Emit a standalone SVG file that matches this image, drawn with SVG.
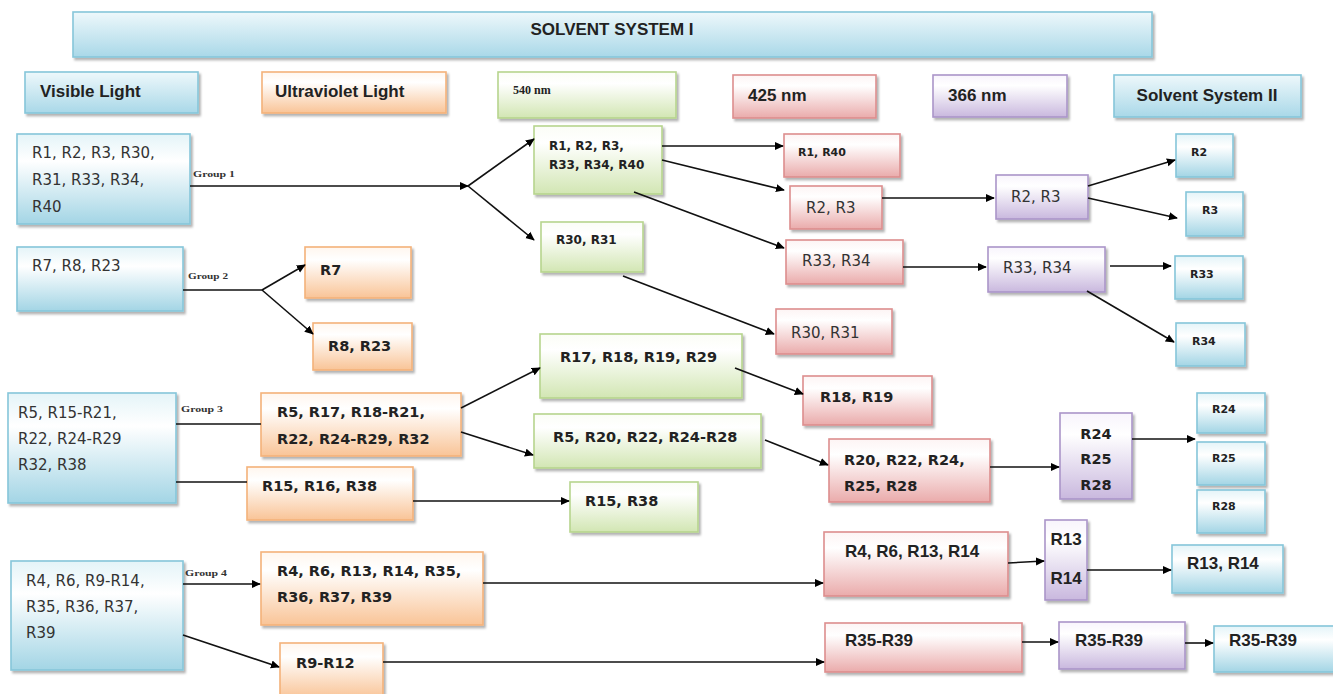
<svg xmlns="http://www.w3.org/2000/svg" width="1333" height="694" viewBox="0 0 1333 694">
<defs>
  <linearGradient id="gBlue" x1="0" y1="0" x2="0" y2="1">
    <stop offset="0" stop-color="#e4f4f8"/><stop offset="0.3" stop-color="#ffffff"/><stop offset="1" stop-color="#a3d5e5"/>
  </linearGradient>
  <linearGradient id="gHead" x1="0" y1="0" x2="0" y2="1">
    <stop offset="0" stop-color="#eef8fb"/><stop offset="1" stop-color="#a9d8e8"/>
  </linearGradient>
  <linearGradient id="gOrange" x1="0" y1="0" x2="0" y2="1">
    <stop offset="0" stop-color="#fff6ee"/><stop offset="0.25" stop-color="#ffffff"/><stop offset="1" stop-color="#f9c497"/>
  </linearGradient>
  <linearGradient id="gGreen" x1="0" y1="0" x2="0" y2="1">
    <stop offset="0" stop-color="#fbfdf6"/><stop offset="0.25" stop-color="#ffffff"/><stop offset="1" stop-color="#d2e6b3"/>
  </linearGradient>
  <linearGradient id="gRed" x1="0" y1="0" x2="0" y2="1">
    <stop offset="0" stop-color="#fdf4f4"/><stop offset="0.25" stop-color="#ffffff"/><stop offset="1" stop-color="#eaabab"/>
  </linearGradient>
  <linearGradient id="gPurple" x1="0" y1="0" x2="0" y2="1">
    <stop offset="0" stop-color="#f8f4fc"/><stop offset="0.25" stop-color="#ffffff"/><stop offset="1" stop-color="#c9b8de"/>
  </linearGradient>
  <filter id="sh" x="-10%" y="-10%" width="130%" height="140%">
    <feDropShadow dx="2" dy="2.5" stdDeviation="1.2" flood-color="#000" flood-opacity="0.3"/>
  </filter>
  <marker id="ah" viewBox="0 0 10 10" refX="9" refY="5" markerWidth="9" markerHeight="9" markerUnits="userSpaceOnUse" orient="auto">
    <path d="M0,0.5 L10,5 L0,9.5 Z" fill="#000"/>
  </marker>
  <style>
    rect { filter: url(#sh); stroke-width: 1.6; }
    .blue rect { fill: url(#gBlue); stroke: #86c6da; }
    .head rect { fill: url(#gHead); stroke: #86c6da; }
    .orange rect { fill: url(#gOrange); stroke: #f4b27a; }
    .green rect { fill: url(#gGreen); stroke: #b7d58e; }
    .red rect { fill: url(#gRed); stroke: #dd8e8e; }
    .purple rect { fill: url(#gPurple); stroke: #ab95c9; }
    text { fill: #222; }
    .dv { font-family: "DejaVu Sans", sans-serif; font-size: 15px; fill: #333; }
    .dvb { font-family: "DejaVu Sans", sans-serif; font-size: 14.5px; font-weight: bold; }
    .dvs { font-family: "DejaVu Sans", sans-serif; font-size: 12px; font-weight: bold; }
    .dvxs { font-family: "DejaVu Sans", sans-serif; font-size: 11px; font-weight: bold; }
    .cb { font-family: "Liberation Sans", Arial, sans-serif; font-size: 17px; font-weight: bold; }
    .ser { font-family: "Liberation Serif", serif; font-size: 12px; font-weight: bold; }
    .grp { font-family: "Liberation Serif", serif; font-size: 9px; font-weight: bold; fill: #333; }
    #connectors line { stroke: #111; stroke-width: 1.6; fill: none; }
    .arr { marker-end: url(#ah); }
  </style>
</defs>

<rect width="1333" height="694" fill="#ffffff" style="filter:none"/>

<!-- Headers -->
<g id="solvent-system-1" class="head"><rect x="73" y="12" width="1079" height="45"/><text class="cb" x="612" y="35" font-size="14" text-anchor="middle">SOLVENT SYSTEM I</text></g>
<g id="visible-light" class="head"><rect x="25" y="72" width="173" height="41"/><text class="cb" x="40" y="97">Visible Light</text></g>
<g id="ultraviolet-light" class="orange"><rect x="262" y="72" width="184" height="41"/><text class="cb" x="275" y="97">Ultraviolet Light</text></g>
<g id="h540" class="green"><rect x="498" y="72" width="178" height="46"/><text class="ser" x="513" y="94">540 nm</text></g>
<g id="h425" class="red"><rect x="733" y="75" width="143" height="43"/><text class="cb" x="748" y="101">425 nm</text></g>
<g id="h366" class="purple"><rect x="933" y="75" width="134" height="42"/><text class="cb" x="948" y="101">366 nm</text></g>
<g id="solvent-system-2" class="head"><rect x="1114" y="75" width="187" height="42"/><text class="cb" x="1207" y="101" text-anchor="middle">Solvent System II</text></g>

<!-- Group 1 -->
<g id="g1" class="blue"><rect x="17" y="134" width="173" height="90"/>
  <text class="dv" x="32" y="158">R1, R2, R3, R30,</text>
  <text class="dv" x="32" y="185">R31, R33, R34,</text>
  <text class="dv" x="32" y="212">R40</text></g>
<g id="g1-540a" class="green"><rect x="534" y="126" width="128" height="68"/>
  <text class="dvs" x="549" y="150">R1, R2, R3,</text>
  <text class="dvs" x="549" y="169">R33, R34, R40</text></g>
<g id="g1-540b" class="green"><rect x="541" y="222" width="102" height="50"/>
  <text class="dvs" x="556" y="244">R30, R31</text></g>
<g id="g1-425a" class="red"><rect x="784" y="134" width="116" height="43"/><text class="dvxs" x="798" y="156">R1, R40</text></g>
<g id="g1-425b" class="red"><rect x="790" y="186" width="92" height="43"/><text class="dv" x="806" y="213">R2, R3</text></g>
<g id="g1-425c" class="red"><rect x="786" y="240" width="117" height="44"/><text class="dv" x="802" y="266">R33, R34</text></g>
<g id="g1-425d" class="red"><rect x="776" y="309" width="116" height="45"/><text class="dv" x="791" y="338">R30, R31</text></g>
<g id="g1-366a" class="purple"><rect x="996" y="175" width="92" height="44"/><text class="dv" x="1011" y="202">R2, R3</text></g>
<g id="g1-366b" class="purple"><rect x="988" y="247" width="117" height="45"/><text class="dv" x="1003" y="273">R33, R34</text></g>
<g id="s2-r2" class="blue"><rect x="1176" y="134" width="57" height="43"/><text class="dvxs" x="1191" y="156">R2</text></g>
<g id="s2-r3" class="blue"><rect x="1186" y="192" width="57" height="44"/><text class="dvxs" x="1202" y="214">R3</text></g>
<g id="s2-r33" class="blue"><rect x="1175" y="256" width="68" height="43"/><text class="dvxs" x="1190" y="278">R33</text></g>
<g id="s2-r34" class="blue"><rect x="1176" y="323" width="69" height="43"/><text class="dvxs" x="1192" y="345">R34</text></g>

<!-- Group 2 -->
<g id="g2" class="blue"><rect x="17" y="247" width="166" height="64"/><text class="dv" x="32" y="271">R7, R8, R23</text></g>
<g id="g2-r7" class="orange"><rect x="305" y="247" width="106" height="51"/><text class="dvb" x="320" y="275">R7</text></g>
<g id="g2-r8" class="orange"><rect x="313" y="323" width="99" height="47"/><text class="dvb" x="328" y="351">R8, R23</text></g>

<!-- Group 3 -->
<g id="g3" class="blue"><rect x="8" y="393" width="168" height="110"/>
  <text class="dv" x="18" y="418">R5, R15-R21,</text>
  <text class="dv" x="18" y="444">R22, R24-R29</text>
  <text class="dv" x="18" y="470">R32, R38</text></g>
<g id="g3-uv1" class="orange"><rect x="261" y="393" width="200" height="63"/>
  <text class="dvb" x="277" y="417">R5, R17, R18-R21,</text>
  <text class="dvb" x="277" y="444">R22, R24-R29, R32</text></g>
<g id="g3-uv2" class="orange"><rect x="247" y="467" width="166" height="53"/><text class="dvb" x="262" y="491">R15, R16, R38</text></g>
<g id="g3-540a" class="green"><rect x="540" y="334" width="202" height="64"/><text class="dvb" x="560" y="362">R17, R18, R19, R29</text></g>
<g id="g3-540b" class="green"><rect x="534" y="414" width="227" height="54"/><text class="dvb" x="553" y="442">R5, R20, R22, R24-R28</text></g>
<g id="g3-540c" class="green"><rect x="570" y="482" width="128" height="50"/><text class="dvb" x="585" y="506">R15, R38</text></g>
<g id="g3-425a" class="red"><rect x="803" y="376" width="129" height="49"/><text class="dvb" x="820" y="402">R18, R19</text></g>
<g id="g3-425b" class="red"><rect x="829" y="439" width="161" height="63"/>
  <text class="dvb" x="844" y="465">R20, R22, R24,</text>
  <text class="dvb" x="844" y="491">R25, R28</text></g>
<g id="g3-366" class="purple"><rect x="1060" y="413" width="72" height="86"/>
  <text class="dvb" x="1096" y="439" text-anchor="middle">R24</text>
  <text class="dvb" x="1096" y="464" text-anchor="middle">R25</text>
  <text class="dvb" x="1096" y="490" text-anchor="middle">R28</text></g>
<g id="s2-r24" class="blue"><rect x="1197" y="393" width="68" height="40"/><text class="dvxs" x="1212" y="413">R24</text></g>
<g id="s2-r25" class="blue"><rect x="1197" y="442" width="68" height="43"/><text class="dvxs" x="1212" y="462">R25</text></g>
<g id="s2-r28" class="blue"><rect x="1197" y="490" width="68" height="43"/><text class="dvxs" x="1212" y="510">R28</text></g>

<!-- Group 4 -->
<g id="g4" class="blue"><rect x="11" y="561" width="172" height="109"/>
  <text class="dv" x="26" y="586">R4, R6, R9-R14,</text>
  <text class="dv" x="26" y="612">R35, R36, R37,</text>
  <text class="dv" x="26" y="638">R39</text></g>
<g id="g4-uv1" class="orange"><rect x="261" y="552" width="222" height="73"/>
  <text class="dvb" x="277" y="576">R4, R6, R13, R14, R35,</text>
  <text class="dvb" x="277" y="602">R36, R37, R39</text></g>
<g id="g4-uv2" class="orange"><rect x="280" y="643" width="103" height="55"/><text class="dvb" x="296" y="668">R9-R12</text></g>
<g id="g4-425a" class="red"><rect x="824" y="532" width="184" height="64"/><text class="cb" x="845" y="557">R4, R6, R13, R14</text></g>
<g id="g4-425b" class="red"><rect x="825" y="623" width="197" height="49"/><text class="cb" x="845" y="646">R35-R39</text></g>
<g id="g4-366a" class="purple"><rect x="1045" y="520" width="42" height="80"/>
  <text class="cb" x="1066" y="545" font-size="15" text-anchor="middle">R13</text>
  <text class="cb" x="1066" y="584" font-size="15" text-anchor="middle">R14</text></g>
<g id="g4-366b" class="purple"><rect x="1059" y="622" width="126" height="47"/><text class="cb" x="1075" y="646">R35-R39</text></g>
<g id="s2-r13r14" class="blue"><rect x="1172" y="545" width="111" height="48"/><text class="cb" x="1187" y="569">R13, R14</text></g>
<g id="s2-r35r39" class="blue"><rect x="1214" y="626" width="125" height="46"/><text class="cb" x="1229" y="646">R35-R39</text></g>

<!-- Group labels -->
<g id="group-labels">
  <text class="grp" x="193" y="177" textLength="42" lengthAdjust="spacingAndGlyphs">Group 1</text>
  <text class="grp" x="188" y="279" textLength="40" lengthAdjust="spacingAndGlyphs">Group 2</text>
  <text class="grp" x="181" y="412" textLength="42" lengthAdjust="spacingAndGlyphs">Group 3</text>
  <text class="grp" x="185" y="576" textLength="42" lengthAdjust="spacingAndGlyphs">Group 4</text>
</g>

<!-- Connectors -->
<g id="connectors">
  <line class="arr" x1="190" y1="186" x2="468" y2="186"/>
  <line class="arr" x1="468" y1="186" x2="534" y2="139"/>
  <line class="arr" x1="468" y1="186" x2="534" y2="240"/>
  <line class="arr" x1="662" y1="146" x2="783" y2="146"/>
  <line class="arr" x1="662" y1="160" x2="784" y2="190"/>
  <line class="arr" x1="634" y1="192" x2="784" y2="248"/>
  <line class="arr" x1="623" y1="276" x2="774" y2="334"/>
  <line class="arr" x1="882" y1="198" x2="994" y2="198"/>
  <line class="arr" x1="1088" y1="186" x2="1175" y2="160"/>
  <line class="arr" x1="1088" y1="198" x2="1177" y2="218"/>
  <line class="arr" x1="903" y1="267" x2="986" y2="267"/>
  <line class="arr" x1="1110" y1="266" x2="1171" y2="266"/>
  <line class="arr" x1="1087" y1="291" x2="1174" y2="342"/>

  <line x1="183" y1="290" x2="262" y2="290"/>
  <line class="arr" x1="262" y1="290" x2="305" y2="265"/>
  <line class="arr" x1="262" y1="290" x2="313" y2="334"/>

  <line x1="176" y1="424" x2="261" y2="424"/>
  <line x1="176" y1="482" x2="247" y2="482"/>
  <line class="arr" x1="413" y1="501" x2="569" y2="501"/>
  <line class="arr" x1="461" y1="408" x2="540" y2="368"/>
  <line class="arr" x1="461" y1="432" x2="533" y2="455"/>
  <line class="arr" x1="735" y1="368" x2="803" y2="394"/>
  <line class="arr" x1="765" y1="440" x2="828" y2="465"/>
  <line class="arr" x1="990" y1="467" x2="1059" y2="467"/>
  <line class="arr" x1="1132" y1="439" x2="1195" y2="439"/>

  <line class="arr" x1="183" y1="584" x2="260" y2="584"/>
  <line class="arr" x1="183" y1="635" x2="279" y2="667"/>
  <line class="arr" x1="483" y1="583" x2="823" y2="583"/>
  <line class="arr" x1="383" y1="662" x2="824" y2="662"/>
  <line class="arr" x1="1008" y1="563" x2="1044" y2="561"/>
  <line class="arr" x1="1087" y1="570" x2="1171" y2="570"/>
  <line class="arr" x1="1022" y1="642" x2="1058" y2="642"/>
  <line class="arr" x1="1185" y1="643" x2="1213" y2="643"/>
</g>
</svg>
